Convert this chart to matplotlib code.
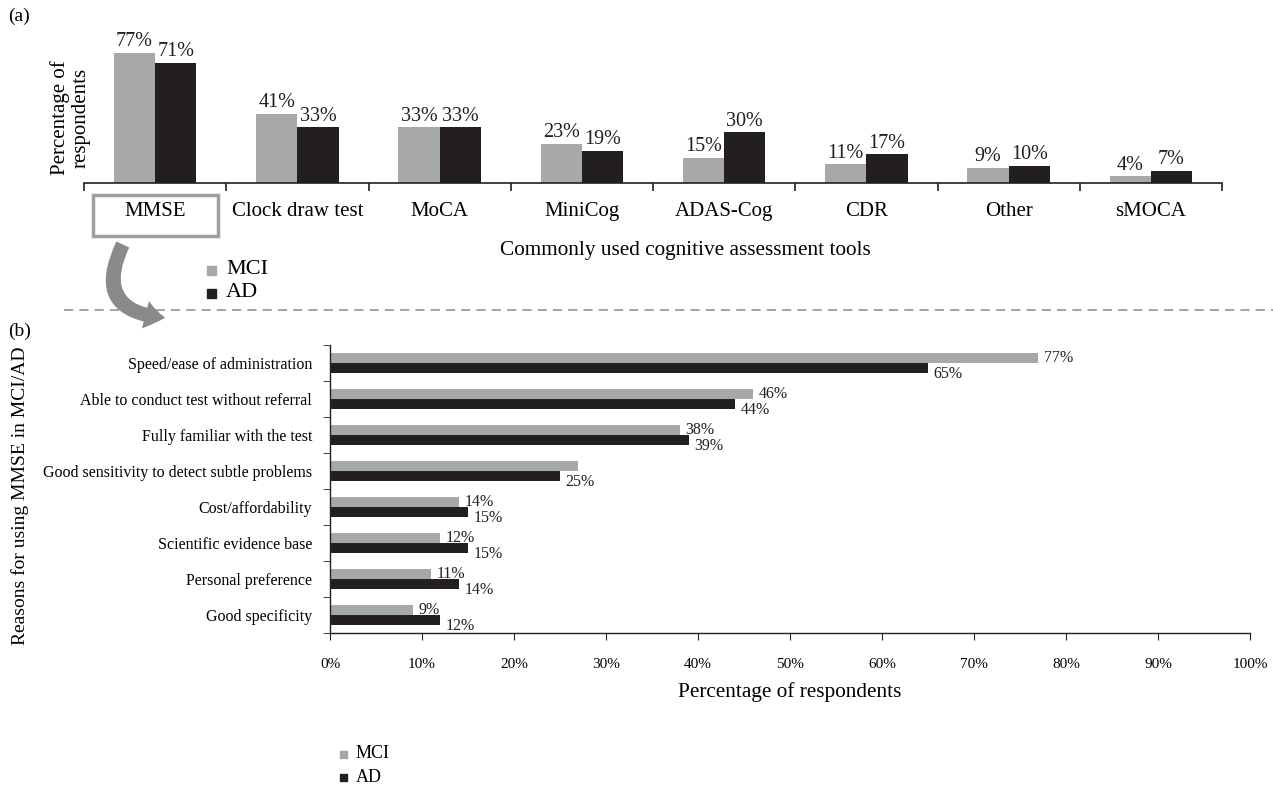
import numpy as np
import matplotlib
matplotlib.use("Agg")
from matplotlib import pyplot as plt
from matplotlib.patches import Rectangle, FancyArrowPatch
from matplotlib.lines import Line2D

# Data
tools = ["MMSE", "Clock draw test", "MoCA", "MiniCog", "ADAS-Cog", "CDR", "Other", "sMOCA"]
tools_mci = [77, 41, 33, 23, 15, 11, 9, 4]
tools_ad = [71, 33, 33, 19, 30, 17, 10, 7]

reasons = ["Speed/ease of administration", "Able to conduct test without referral",
           "Fully familiar with the test", "Good sensitivity to detect subtle problems",
           "Cost/affordability", "Scientific evidence base", "Personal preference",
           "Good specificity"]
reasons_mci = [77, 46, 38, 27, 14, 12, 11, 9]
reasons_ad = [65, 44, 39, 25, 15, 15, 14, 12]
# the MCI label of the 4th reason is not printed in the original
show_mci_label = [True, True, True, False, True, True, True, True]

x_ticks = np.arange(0, 101, 10)

MCI_COL = "#a7a8aa"
AD_COL = "#231f20"
plt.rcParams['font.family'] = ['Liberation Serif', 'DejaVu Serif']

W, H = 1273, 788
fig = plt.figure(figsize=(W / 100, H / 100), dpi=100)


def px(x, y):
    return (x / W, 1 - y / H)


# ---- panel (a) ----
ax1 = fig.add_axes([84 / W, 1 - 183 / H, (1222 - 84) / W, 143.5 / H])
n = len(tools)
pos = np.arange(n)
bw = 0.29
b1 = ax1.bar(pos - bw / 2, tools_mci, bw, color=MCI_COL)
b2 = ax1.bar(pos + bw / 2, tools_ad, bw, color=AD_COL)
for bars, vals in ((b1, tools_mci), (b2, tools_ad)):
    for b, v in zip(bars, vals):
        ax1.text(b.get_x() + b.get_width() / 2, v + 1.0, f"{v}%", ha="center",
                 va="bottom", fontsize=14.5, color="#231f20")
ax1.set_xlim(-0.5, n - 0.5)
ax1.set_ylim(0, 85)
ax1.set_yticks([])
for s in ("top", "right", "left"):
    ax1.spines[s].set_visible(False)
ax1.spines["bottom"].set_color("#231f20")
ax1.spines["bottom"].set_linewidth(1.2)
ax1.set_xticks(pos)
ax1.set_xticklabels(tools, fontsize=15)
ax1.tick_params(axis="x", which="major", length=0, pad=14)
ax1.set_xticks(np.arange(n + 1) - 0.5, minor=True)
ax1.tick_params(axis="x", which="minor", length=6, width=1.2, color="#231f20")
fig.text(*px(70, 118), "Percentage of\nrespondents", rotation=90, ha="center",
         va="center", fontsize=15, linespacing=1.1)
fig.text(*px(685, 250), "Commonly used cognitive assessment tools",
         ha="center", va="center", fontsize=15.3)

# MMSE highlight box
fig.patches.append(Rectangle(px(93, 236), 125 / W, 41 / H, transform=fig.transFigure,
                             fill=False, edgecolor="#a0a0a0", linewidth=2.5))
# curved arrow
arr = FancyArrowPatch(px(124, 242), px(168, 318), transform=fig.transFigure,
                      connectionstyle="arc3,rad=0.75",
                      arrowstyle="simple,head_width=1.7,head_length=1.2,tail_width=0.85",
                      mutation_scale=12, color="#8a8a8a", linewidth=0)
fig.patches.append(arr)

# legend (a)
fig.patches.append(Rectangle(px(207, 275), 9 / W, 9 / H, transform=fig.transFigure,
                             color=MCI_COL))
fig.text(*px(226, 270), "MCI", ha="left", va="center", fontsize=16)
fig.patches.append(Rectangle(px(207, 298), 9 / W, 9 / H, transform=fig.transFigure,
                             color=AD_COL))
fig.text(*px(226, 293), "AD", ha="left", va="center", fontsize=16)

# dashed separator
fig.lines.append(Line2D([64 / W, 1.0], [1 - 310 / H] * 2, transform=fig.transFigure,
                        color="#8a8a8a", linestyle=(0, (6, 4)), linewidth=1.1))

fig.text(*px(8, 16), "(a)", ha="left", va="center", fontsize=14)
fig.text(*px(8, 331), "(b)", ha="left", va="center", fontsize=14)

# ---- panel (b) ----
ax2 = fig.add_axes([330 / W, 1 - 633 / H, 920 / W, 288 / H])
m = len(reasons)
ypos = np.arange(m)
bh = 0.29
h1 = ax2.barh(ypos - bh / 2, reasons_mci, bh, color=MCI_COL)
h2 = ax2.barh(ypos + bh / 2, reasons_ad, bh, color=AD_COL)
for i in range(m):
    if show_mci_label[i]:
        ax2.text(reasons_mci[i] + 0.6, ypos[i] - bh / 2 + 0.02, f"{reasons_mci[i]}%",
                 va="center", ha="left", fontsize=11.5, color="#231f20")
    ax2.text(reasons_ad[i] + 0.6, ypos[i] + bh / 2 + 0.16, f"{reasons_ad[i]}%",
             va="center", ha="left", fontsize=11.5, color="#231f20")
ax2.set_ylim(m - 0.5, -0.5)
ax2.set_xlim(0, 100)
for s in ("top", "right"):
    ax2.spines[s].set_visible(False)
for s in ("left", "bottom"):
    ax2.spines[s].set_color("#231f20")
    ax2.spines[s].set_linewidth(1.0)
ax2.set_yticks(ypos)
ax2.set_yticklabels(reasons, fontsize=11.5)
ax2.tick_params(axis="y", which="major", length=0, pad=13)
ax2.set_yticks(np.arange(m + 1) - 0.5, minor=True)
ax2.tick_params(axis="y", which="minor", length=5, color="#231f20")
ax2.set_xticks(x_ticks)
ax2.set_xticklabels([f"{t}%" for t in x_ticks], fontsize=11)
ax2.tick_params(axis="x", length=5, pad=13, color="#231f20")
ax2.set_xlabel("Percentage of respondents", fontsize=15.3, labelpad=8)
fig.text(*px(20, 496), "Reasons for using MMSE in MCI/AD", rotation=90,
         ha="center", va="center", fontsize=14)

# legend (b)
fig.patches.append(Rectangle(px(340, 758), 7 / W, 7 / H, transform=fig.transFigure,
                             color=MCI_COL))
fig.text(*px(356, 754), "MCI", ha="left", va="center", fontsize=13)
fig.patches.append(Rectangle(px(340, 781), 7 / W, 7 / H, transform=fig.transFigure,
                             color=AD_COL))
fig.text(*px(356, 777), "AD", ha="left", va="center", fontsize=13)

fig.savefig("out.png", dpi=100)
